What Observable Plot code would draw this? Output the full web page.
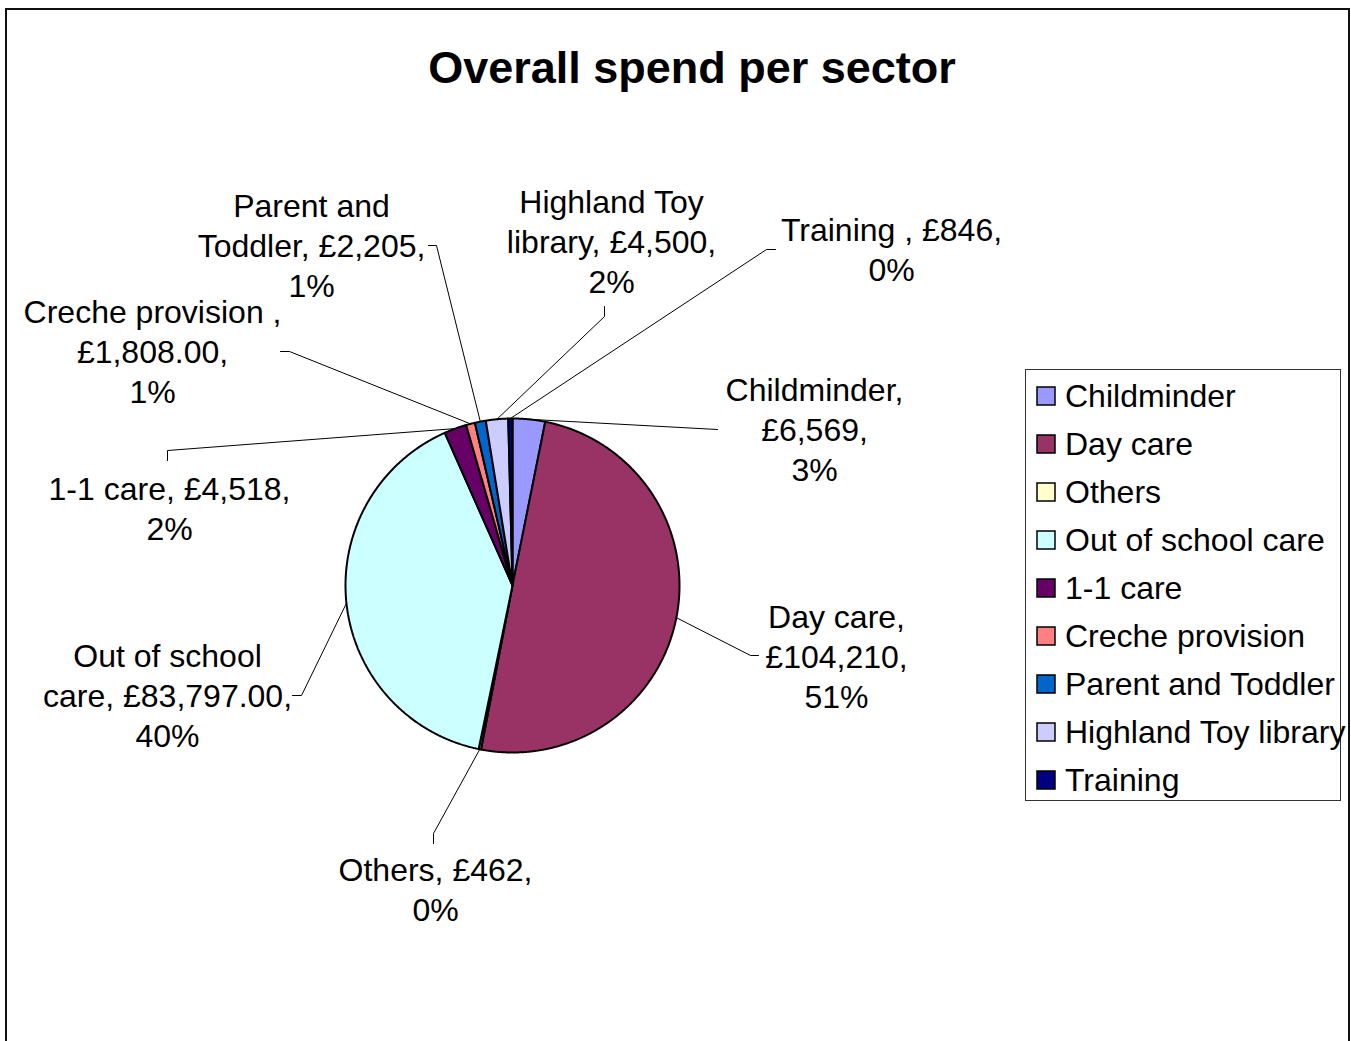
<!DOCTYPE html>
<html>
<head>
<meta charset="utf-8">
<script src="https://cdn.jsdelivr.net/npm/d3@7"></script>
<script src="https://cdn.jsdelivr.net/npm/@observablehq/plot@0.6"></script>
<style>
  html, body { margin: 0; padding: 0; background: #fff; overflow: hidden; }
  #wrap { position: relative; width: 1351px; height: 1041px; overflow: hidden; font-family: "Liberation Sans", Arial, sans-serif; }
  #chart { position: absolute; left: 0; top: 0; }
  #title { position: absolute; left: 692px; top: 45px; transform: translateX(-50%); white-space: nowrap;
           font: bold 45px/1 "Liberation Sans", Arial, sans-serif; color: #000; }
  #legendbox { position: absolute; left: 1025px; top: 369px; width: 316px; height: 432px; box-sizing: border-box;
               border: 1px solid #333; padding: 2px 0 0 11px; }
  #frame { position: absolute; left: 5px; top: 8px; width: 1345px; height: 1100px; box-sizing: border-box;
           border: 2px solid #111; pointer-events: none; z-index: 5; }
  .lg-swatches { font-family: "Liberation Sans", Arial, sans-serif; font-size: 32px; margin: 0; color: #000; }
  .lg-swatch { height: 48px; padding-bottom: 0; }
  .lg-swatch > svg { margin-right: 10px; overflow: visible; }
  .lg-swatch rect { stroke: #000; stroke-width: 1.5px; }
  .lg-swatch-label { overflow: visible; text-overflow: clip; }
</style>
</head>
<body>
<div id="wrap">
  <div id="chart"></div>
  <div id="title"></div>
  <div id="legendbox"></div>
  <div id="frame"></div>
</div>
<script>
// ---- data ----
const titleText = "Overall spend per sector";
const categories = ["Childminder", "Day care", "Others", "Out of school care", "1-1 care",
                    "Creche provision", "Parent and Toddler", "Highland Toy library", "Training"];
const values = [6569, 104210, 462, 83797, 4518, 1808, 2205, 4500, 846];
const colors = ["#9999FF", "#993366", "#FFFFCC", "#CCFFFF", "#660066",
                "#FF8080", "#0066CC", "#CCCCFF", "#000080"];
const labelTexts = [
  "Childminder,\n£6,569,\n3%",
  "Day care,\n£104,210,\n51%",
  "Others, £462,\n0%",
  "Out of school\ncare, £83,797.00,\n40%",
  "1-1 care, £4,518,\n2%",
  "Creche provision ,\n£1,808.00,\n1%",
  "Parent and\nToddler, £2,205,\n1%",
  "Highland Toy\nlibrary, £4,500,\n2%",
  "Training , £846,\n0%"
];

// ---- layout (pixel positions of the label blocks and leader-line bends) ----
const W = 1351, H = 1041, CX = 512, CY = 585, R = 167;
const labelCenters = [[814, 428], [836, 655], [435, 888], [167, 694], [169, 507],
                      [152, 350], [311, 244], [611, 240], [891, 248]];
const leaderBends = [
  [[717, 429]],
  [[750, 655], [758, 655]],
  [[433, 833], [433, 843]],
  [[301, 695], [292, 695]],
  [[167, 450], [167, 460]],
  [[289, 351], [280, 351]],
  [[436, 245], [428, 245]],
  [[604, 316], [604, 306]],
  [[766, 249], [775, 249]]
];

// pixel -> data units (one unit = pie radius)
const ux = p => (p - CX) / R;
const uy = p => (CY - p) / R;

const rows = categories.map((c, i) => ({category: c, value: values[i]}));
const arcs = d3.pie().sort(null).value(d => d.value).startAngle(0).endAngle(2 * Math.PI)(rows);

// slice outlines (centre -> arc -> centre) derived from the pie angles
const slicePts = [];
arcs.forEach(a => {
  const cat = a.data.category;
  slicePts.push({category: cat, x: 0, y: 0});
  const n = Math.max(2, Math.ceil((a.endAngle - a.startAngle) / 0.005));
  for (let k = 0; k <= n; ++k) {
    const t = a.startAngle + (a.endAngle - a.startAngle) * k / n;
    slicePts.push({category: cat, x: Math.sin(t), y: Math.cos(t)});
  }
  slicePts.push({category: cat, x: 0, y: 0});
});

// leader lines: from slice mid-arc to the label
const leaderPts = [];
arcs.forEach((a, i) => {
  const cat = a.data.category;
  const m = (a.startAngle + a.endAngle) / 2;
  leaderPts.push({category: cat, x: Math.sin(m), y: Math.cos(m)});
  leaderBends[i].forEach(([bx, by]) => leaderPts.push({category: cat, x: ux(bx), y: uy(by)}));
});

const labelRows = categories.map((c, i) => ({
  category: c, text: labelTexts[i], x: ux(labelCenters[i][0]), y: uy(labelCenters[i][1])
}));

const chart = Plot.plot({
  width: W,
  height: H,
  margin: 0,
  x: {domain: [ux(0), ux(W)], axis: null},
  y: {domain: [uy(H), uy(0)], axis: null},
  color: {domain: categories, range: colors},
  style: {fontFamily: "'Liberation Sans', Arial, sans-serif", background: "transparent", overflow: "visible"},
  marks: [
    Plot.line(slicePts, {x: "x", y: "y", z: "category", fill: "category", stroke: "#000", strokeWidth: 2, strokeLinejoin: "miter"}),
    Plot.line(leaderPts, {x: "x", y: "y", z: "category", stroke: "#000", strokeWidth: 1}),
    Plot.text(labelRows, {x: "x", y: "y", text: "text", fontSize: 32, lineHeight: 1.25,
                          textAnchor: "middle", lineAnchor: "middle", fill: "#000"})
  ]
});
document.getElementById("chart").appendChild(chart);
document.getElementById("title").textContent = titleText;

const legend = chart.legend("color", {legend: "swatches", columns: 1, className: "lg", swatchSize: 18});
document.getElementById("legendbox").appendChild(legend);
</script>
</body>
</html>
